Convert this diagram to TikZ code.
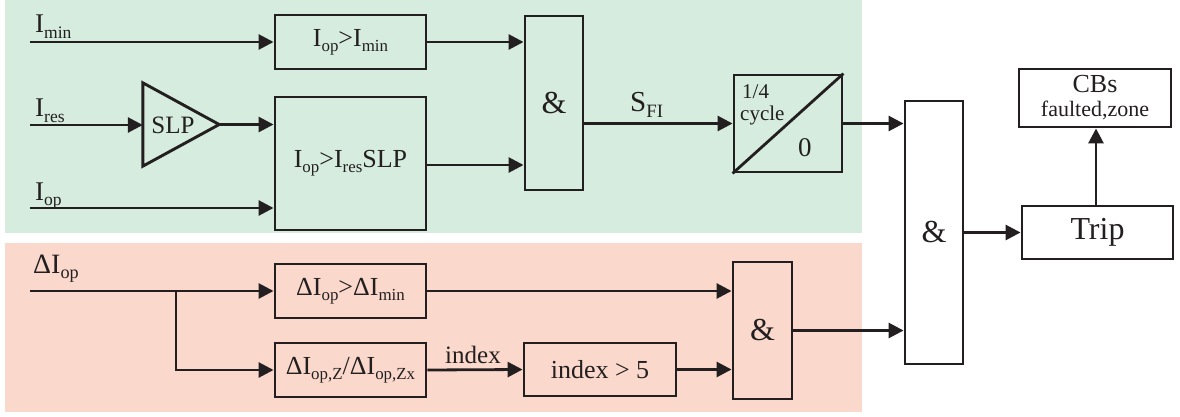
\documentclass[tikz,border=0pt]{standalone}
\usepackage{fontspec}
\setmainfont{Liberation Serif}
\usetikzlibrary{arrows.meta}
\definecolor{zonegreen}{RGB}{213,236,222}
\definecolor{zonepeach}{RGB}{250,217,204}
\definecolor{ink}{RGB}{35,31,32}
% lowered, reduced-size subscript
\newcommand{\lo}[1]{\raisebox{-0.2em}{\scalebox{0.65}{#1}}}
\newcommand{\fs}[1]{\fontsize{#1}{#1}\selectfont}

\begin{document}
\begin{tikzpicture}[x=1pt,y=-1pt,
  blk/.style={draw=ink,line width=2.9pt,inner sep=0pt,text=ink,font=\fs{26}},
  sz/.style n args={2}{minimum width=#1pt,minimum height=#2pt},
  wire/.style={draw=ink,line width=2.8pt},
  arr/.style={wire,-{Triangle[length=15pt,width=15pt]}},
  lbl/.style={inner sep=0pt,text=ink,font=\fs{27},anchor=base west}]

\useasboundingbox (0,0) rectangle (1180,417);

% shaded zones
\fill[zonegreen] (5,0) rectangle (862,233);
\fill[zonepeach] (5,243) rectangle (862,412);

% upper path: level and slope checks
\node[blk,sz={151}{54}] (bmin) at (350.5,42) {I\lo{op}>I\lo{min}};
\node[blk,sz={151}{133}] (bres) at (350.5,163.5) {I\lo{op}>I\lo{res}SLP};
\node[inner sep=0pt,sz={76}{83}] (tri) at (181,124.5) {};
\draw[wire,line width=2.9pt,line join=miter] (tri.north west) -- (tri.east) -- (tri.south west) -- cycle;
\node[inner sep=0pt,text=ink,font=\fs{25}] (slp) at (173,125) {SLP};
\node[blk,sz={58}{174}] (and1) at (554,103) {\fs{32}\&};
\node[blk,sz={108}{97}] (timer) at (788,123.5) {};
\draw[wire] (timer.south west) -- (timer.north east);
\node[lbl,font=\fs{21}] (tq) at (742,99) {1/4};
\node[lbl,font=\fs{21}] (tc) at (740,121) {cycle};
\node[lbl,font=\fs{27}] (tz) at (798,157) {0};

% output stage
\node[blk,sz={58}{263}] (and3) at (934,232.5) {\fs{32}\&};
\node[blk,sz={151}{53},fill=white] (trip) at (1097.5,232.5) {\fs{32}Trip};
\node[blk,sz={152}{58},fill=white,align=center] (cbs) at (1095,98)
  {\fs{26}CBs\\[-2pt]\fs{22}faulted,zone};

% lower path: incremental checks
\node[blk,sz={151}{54}] (d1) at (350.5,291) {ΔI\lo{op}>ΔI\lo{min}};
\node[blk,sz={151}{54}] (d2) at (350.5,370) {ΔI\lo{op,Z}/ΔI\lo{op,Zx}};
\node[blk,sz={152}{53}] (idx) at (600,369.5) {index > 5};
\node[blk,sz={59}{137}] (and2) at (762.5,330.5) {\fs{32}\&};

% input labels
\node[lbl] (lmin) at (35,33) {I\lo{min}};
\node[lbl] (lres) at (35,117) {I\lo{res}};
\node[lbl] (lop) at (35,200) {I\lo{op}};
\node[lbl,font=\fs{28}] (ldop) at (33,273) {ΔI\lo{op}};
\node[lbl,font=\fs{29}] (lsfi) at (630,112) {S\lo{FI}};
\node[lbl,font=\fs{25}] (lidx) at (445,363) {index};

% signal inputs
\coordinate (inmin) at (30,42);
\coordinate (inres) at (30,125);
\coordinate (inop) at (30,208);
\coordinate (indop) at (30,291);
\coordinate (split) at (176,291);

% connectors
\draw[arr] (inmin) -- (bmin.west);
\draw[arr] (inres) -- (tri.west |- inres);
\draw[arr] (tri.east) -- (bres.west |- tri.east);
\draw[arr] (inop) -- (bres.west |- inop);
\draw[arr] (bmin.east) -- (and1.west |- bmin.east);
\draw[arr] (bres.east |- 0,165) -- (and1.west |- 0,165);
\draw[arr] (and1.east |- timer.west) -- (timer.west);
\draw[arr] (timer.east) -- (and3.west |- timer.east);
\draw[arr] (and3.east) -- (trip.west);
\draw[arr] (trip.north -| 1096,0) -- (cbs.south -| 1096,0);

\draw[arr] (indop) -- (d1.west);
\draw[arr] (split) |- (d2.west);
\draw[arr] (d1.east) -- (and2.west |- d1.east);
\draw[arr] (d2.east) -- (idx.west);
\draw[arr] (idx.east) -- (and2.west |- idx.east);
\draw[arr] (and2.east) -- (and3.west |- and2.east);
\end{tikzpicture}
\end{document}
